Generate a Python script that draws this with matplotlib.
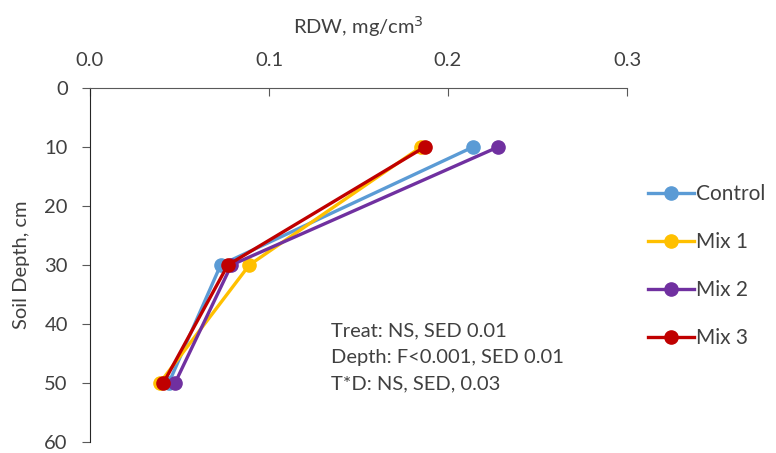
import matplotlib
matplotlib.use("Agg")
import matplotlib.pyplot as plt

depth = [10, 30, 50]
series_names = ["Control", "Mix 1", "Mix 2", "Mix 3"]
control = [0.214, 0.073, 0.044]
mix1 = [0.185, 0.089, 0.039]
mix2 = [0.228, 0.079, 0.0475]
mix3 = [0.187, 0.077, 0.041]
colors = ["#5B9BD5", "#FFC000", "#7030A0", "#C00000"]
xticks = [0.0, 0.1, 0.2, 0.3]
yticks = [0, 10, 20, 30, 40, 50, 60]
stats_text = "Treat: NS, SED 0.01\nDepth: F<0.001, SED 0.01\nT*D: NS, SED, 0.03"

plt.rcParams['font.family'] = ['Lato', 'DejaVu Sans']
FS = 14.5
fig = plt.figure(figsize=(7.76, 4.53), dpi=100)
ax = fig.add_axes([90/776, 1-442/453, (627-90)/776, (442-88)/453])

for name, vals, c in zip(series_names, [control, mix1, mix2, mix3], colors):
    ax.plot(vals, depth, color=c, lw=2.4, marker='o', markersize=9.5, label=name)

ax.set_xlim(0, 0.3)
ax.set_ylim(60, 0)
ax.xaxis.tick_top()
ax.xaxis.set_label_position('top')
ax.set_xticks(xticks)
ax.set_xticklabels([f"{v:.1f}" for v in xticks])
ax.set_yticks(yticks)
ax.tick_params(axis='x', direction='in', length=6, labelsize=FS, colors='#595959', pad=14)
ax.tick_params(axis='y', direction='out', length=6, labelsize=FS, colors='#595959', pad=10)
for lab in ax.get_xticklabels() + ax.get_yticklabels():
    lab.set_color('#404040')
ax.spines['right'].set_visible(False)
ax.spines['bottom'].set_visible(False)
ax.spines['top'].set_color('#595959')
ax.spines['left'].set_color('#262626')
ax.set_xlabel("RDW, mg/cm$^3$", fontsize=FS, color='#404040', labelpad=13)
ax.set_ylabel("Soil Depth, cm", fontsize=FS, color='#404040', labelpad=10)

ax.text(0.1345, 39.7, stats_text, fontsize=FS, color='#404040',
        va='top', ha='left', linespacing=1.7)

handles, labels = ax.get_legend_handles_labels()
fig.legend(handles, labels, loc='center left', bbox_to_anchor=(640/776, 1-266/453),
           frameon=False, fontsize=FS + 0.5, labelspacing=1.35, handlelength=2.2,
           handletextpad=0.1, labelcolor='#404040', borderaxespad=0)

fig.savefig("out.png", dpi=100)
